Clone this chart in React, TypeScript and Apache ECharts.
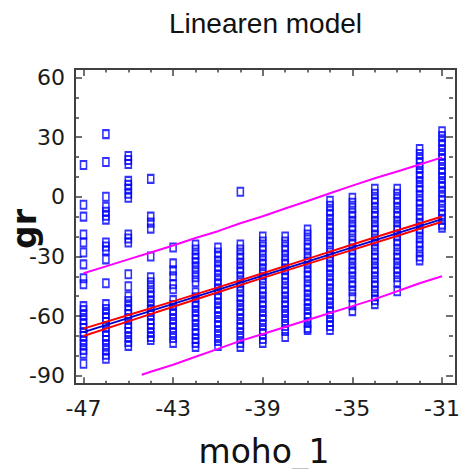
import React, { useEffect, useRef } from "react";
import * as echarts from "echarts";

// moho_1 values (x) and the gr observations at each of them (y)
const mohoValues = [-47, -46, -45, -44, -43, -42, -41, -40, -39, -38, -37, -36, -35, -34, -33, -32, -31];
const grColumns: number[][] = [
  [16, -4, -10, -19, -23, -28, -34, -41, -44, -55, -57, -59.5, -62, -64, -66, -68.5, -70, -72, -74.5, -77, -79, -84],
  [31.5, 17.5, 0, -5, -7.5, -9.5, -11.5, -23, -25, -27, -31.5, -43.5, -54, -56.5, -59, -61, -63, -65.5, -68, -70, -72, -74.5, -77, -79.5, -81.5],
  [20.5, 18.5, 16.5, 8, 6, 4, 1.5, -0.5, -19, -21, -23, -39, -45, -50, -52.5, -55, -57, -59, -61.5, -64, -66, -68, -70.5, -73, -75],
  [9, -10, -13, -16, -30, -40.5, -43, -45.5, -48, -50, -52.5, -55, -57, -59.5, -62, -64, -66, -68.5, -70.5, -72],
  [-25.5, -33.5, -37, -40, -44, -46.5, -52, -54.5, -57, -59, -61.5, -64, -66, -68.5, -71, -73.5],
  [-24, -26.5, -29, -31, -33, -35.5, -38, -40.5, -43, -48, -50.5, -53, -55, -57.5, -60, -62, -64.5, -67, -69, -71.5, -73.5, -75.5],
  [-25.5, -28, -30, -32.5, -35, -37, -39.5, -42, -44, -46.5, -49, -51, -53.5, -56, -58, -60.5, -63, -65, -67.5, -70, -72.5, -75],
  [2.5, -24, -26.5, -29, -31, -33.5, -36, -38, -40.5, -43, -45, -47.5, -50, -52, -54.5, -57, -59, -61.5, -64, -66, -68.5, -71, -73.5, -75.5],
  [-20, -22.5, -25, -27, -29.5, -32, -34, -36.5, -39, -41, -43.5, -46, -48, -50.5, -53, -55, -57.5, -60, -62, -64.5, -67, -69, -71.5, -73.5],
  [-20, -22.5, -25, -27, -29.5, -32, -34, -36.5, -39, -41, -43.5, -46, -48, -50.5, -53, -55, -57.5, -60, -62.5, -65, -67.5, -70.5],
  [-16.5, -19, -21.5, -24, -26, -28.5, -31, -33, -35.5, -38, -40, -42.5, -45, -47, -49.5, -52, -54, -56.5, -59, -61, -63.5, -66, -67],
  [-2, -4.5, -7, -9, -11.5, -14, -16, -18.5, -21, -23, -25.5, -28, -30, -32.5, -35, -37, -39.5, -42, -44, -46.5, -49, -51, -53.5, -56, -58, -60.5, -63, -65, -67],
  [-0.5, -3, -5.5, -8, -10, -12.5, -15, -17, -19.5, -22, -24, -26.5, -29, -31, -33.5, -36, -38, -40.5, -43, -45, -47.5, -50.5, -54.5, -57.5],
  [4, 1.5, -1, -3, -5.5, -8, -10, -12.5, -15, -17, -19.5, -22, -24, -26.5, -29, -31, -33.5, -36, -38, -40.5, -43, -45, -47.5, -50, -52, -54],
  [4, 1.5, -1, -3, -5.5, -8, -10, -12.5, -15, -17, -19.5, -22, -24, -26.5, -29, -31, -33.5, -36, -38, -40.5, -43, -47.5],
  [24, 21.5, 19, 17, 14.5, 12, 10, 7.5, 5, 3, 0.5, -2, -4, -6.5, -9, -11, -13.5, -16, -18, -20.5, -23, -25, -27.5, -30, -32],
  [33, 30.5, 28, 26, 23.5, 21, 19, 16.5, 14, 12, 9.5, 7, 5, 2.5, 0, -2, -4.5, -7, -9, -11.5, -14, -15.5],
];

// fitted line and confidence limits
const fitX = [-47, -31];
const fitY = [-68.1, -11.2];
const confX = [-47, -43, -39, -35, -31];
const confUpper = [-66.3, -52.6, -38.5, -24.0, -9.9];
const confLower = [-70.0, -55.3, -40.8, -26.7, -12.6];

// prediction limits
const predUpperX = [-47, -46, -45, -44, -43, -42, -41, -40, -39, -38, -37, -36, -35, -34, -33, -32, -31];
const predUpper = [-38.5, -35, -31.5, -28, -24.5, -20.7, -17.3, -13.3, -9.8, -5.9, -2.1, 1.8, 5.6, 9.3, 12.7, 16.2, 19.8];
const predLowerX = [-44.4, -44, -43, -42, -41, -40, -39, -38, -37, -36, -35, -34, -33, -32, -31];
const predLower = [-89.5, -88, -84.5, -80.5, -76.5, -72.5, -69, -65.5, -62, -58.5, -55, -51.5, -47.5, -43.5, -40];

const xTicks = { min: -47, max: -31, interval: 4 };
const yTicks = { min: -90, max: 60, interval: 30 };

const zip = (xs: number[], ys: number[]) => xs.map((x, i) => [x, ys[i]]);

export default function App() {
  const ref = useRef<HTMLDivElement>(null);
  useEffect(() => {
    if (!ref.current) return;
    const chart = echarts.init(ref.current, undefined, { renderer: "svg" });
    const axisColor = "#404040";
    const tickStyle = { color: axisColor, width: 1.5 };
    const labelFont = { fontFamily: "DejaVu Sans", fontSize: 22, color: "#1a1a1a" };
    const scatterData = mohoValues.flatMap((m, i) => grColumns[i].map((g) => [m, g]));
    const xCommon = {
      type: "value" as const,
      gridIndex: 0,
      min: xTicks.min,
      max: xTicks.max,
      interval: xTicks.interval,
      offset: 8.5,
      axisLine: { show: false, onZero: false },
      axisTick: { show: true, inside: true, length: 7, lineStyle: tickStyle },
      minorTick: { show: true, splitNumber: 4, length: 3.5, lineStyle: tickStyle },
      splitLine: { show: false },
      minorSplitLine: { show: false },
    };
    const yCommon = {
      type: "value" as const,
      gridIndex: 0,
      min: yTicks.min,
      max: yTicks.max,
      interval: yTicks.interval,
      axisLine: { show: false, onZero: false },
      axisTick: { show: true, inside: true, length: 7, lineStyle: tickStyle },
      minorTick: { show: true, splitNumber: 3, length: 4, lineStyle: tickStyle },
      splitLine: { show: false },
      minorSplitLine: { show: false },
    };
    chart.setOption({
      animation: false,
      backgroundColor: "#ffffff",
      grid: [
        { left: 83.5, right: 18, top: 77.5, bottom: 93.3 },
        {
          left: 75,
          right: 7,
          top: 69,
          bottom: 85,
          show: true,
          borderColor: axisColor,
          borderWidth: 2,
          backgroundColor: "transparent",
          z: 10,
        },
      ],
      xAxis: [
        {
          ...xCommon,
          position: "bottom",
          axisLabel: { ...labelFont, margin: 13 },
        },
        { ...xCommon, position: "top", axisLabel: { show: false } },
        { type: "value", gridIndex: 1, show: false, min: 0, max: 1 },
      ],
      yAxis: [
        {
          ...yCommon,
          position: "left",
          offset: 8.5,
          axisLabel: { ...labelFont, margin: 10 },
        },
        { ...yCommon, position: "right", offset: 11, axisLabel: { show: false } },
        { type: "value", gridIndex: 1, show: false, min: 0, max: 1 },
      ],
      graphic: [
        {
          type: "text",
          x: 265.5,
          y: 23,
          style: {
            text: "Linearen model",
            fontFamily: "Liberation Sans",
            fontSize: 28,
            fill: "#111",
            align: "center",
            verticalAlign: "middle",
          },
        },
        {
          type: "text",
          x: 264,
          y: 451,
          style: {
            text: "moho_1",
            fontFamily: "DejaVu Sans",
            fontSize: 33,
            fill: "#111",
            align: "center",
            verticalAlign: "middle",
          },
        },
        {
          type: "text",
          x: 24,
          y: 229,
          rotation: Math.PI / 2,
          style: {
            text: "gr",
            fontFamily: "DejaVu Sans",
            fontSize: 33,
            fontWeight: "bold",
            fill: "#111",
            align: "center",
            verticalAlign: "middle",
          },
        },
      ],
      series: [
        {
          type: "scatter",
          xAxisIndex: 0,
          yAxisIndex: 0,
          data: scatterData,
          symbol: "rect",
          symbolSize: [6, 8],
          clip: false,
          itemStyle: { color: "rgba(0,0,0,0)", borderColor: "#0000ff", borderWidth: 1.8 },
          z: 2,
        },
        {
          type: "line",
          data: zip(predUpperX, predUpper),
          showSymbol: false,
          lineStyle: { color: "#ff00ff", width: 2 },
          z: 3,
        },
        {
          type: "line",
          data: zip(predLowerX, predLower),
          showSymbol: false,
          lineStyle: { color: "#ff00ff", width: 2 },
          z: 3,
        },
        {
          type: "line",
          data: zip(confX, confUpper),
          showSymbol: false,
          smooth: 0.3,
          lineStyle: { color: "#ff0000", width: 2 },
          z: 4,
        },
        {
          type: "line",
          data: zip(confX, confLower),
          showSymbol: false,
          smooth: 0.3,
          lineStyle: { color: "#ff0000", width: 2 },
          z: 4,
        },
        {
          type: "line",
          data: zip(fitX, fitY),
          showSymbol: false,
          lineStyle: { color: "#0000cc", width: 1.8 },
          z: 5,
        },
      ],
    });
    return () => chart.dispose();
  }, []);
  return (
    <div
      ref={ref}
      style={{ position: "fixed", left: 0, top: 0, width: 463, height: 469, background: "#fff" }}
    />
  );
}
